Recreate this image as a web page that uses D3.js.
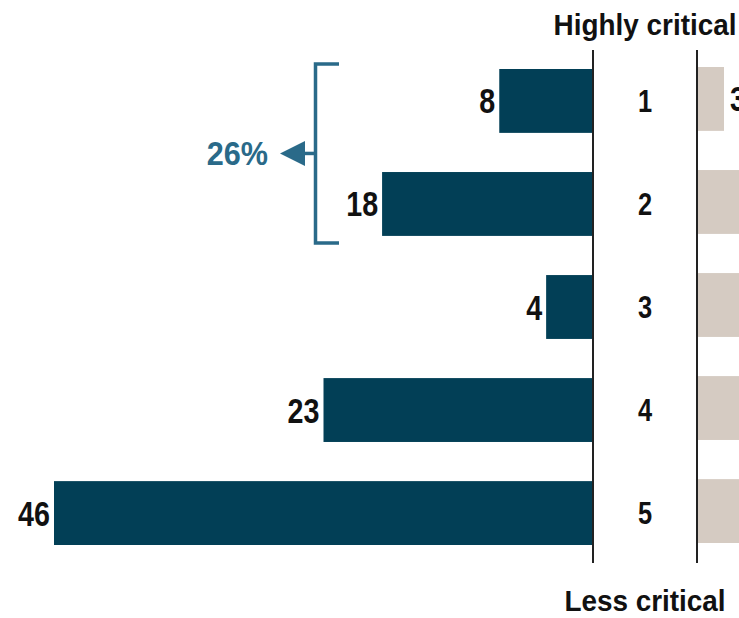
<!DOCTYPE html>
<html>
<head>
<meta charset="utf-8">
<script src="https://cdn.jsdelivr.net/npm/d3@7"></script>
<style>
  html, body { margin: 0; padding: 0; background: #fff; }
  svg { display: block; }
</style>
</head>
<body>
<script>
// Criticality ratings 1 (highly critical) to 5 (less critical)
const categories = ["1", "2", "3", "4", "5"];
// Share of respondents, left panel
const leftValues = [8, 18, 4, 23, 46];
// Share of respondents, right panel
const rightValues = [3, 14, 22, 27, 33];
// Bracketed group (ratings 1 and 2)
const groupCategories = ["1", "2"];
const groupLabel = "26%";
const topLabel = "Highly critical";
const bottomLabel = "Less critical";

const W = 739, H = 618;
const DARK = "#023f56", BEIGE = "#d5cbc2", ACCENT = "#2a6a89", INK = "#111";
const FONT = "'Liberation Sans', Arial, sans-serif";
const NARROW_X = 0.82;   // horizontal squeeze for narrow numerals
const HEAD_X = 0.93;     // horizontal squeeze for panel headings

const svg = d3.select("body").append("svg").attr("width", W).attr("height", H);

const leftAxisX = 593, rightAxisX = 697;

const y = d3.scaleBand().domain(categories).range([69, 545]).paddingInner(0.38).paddingOuter(0);
const yRight = d3.scaleBand().domain(categories).range([67, 543]).paddingInner(0.38).paddingOuter(0);

// Left panel grows leftwards from its axis
const xLeft = d3.scaleLinear().domain([0, 46]).range([leftAxisX, leftAxisX - 539]);
// Right panel grows rightwards from its axis
const xRight = d3.scaleLinear().domain([0, 30]).range([rightAxisX + 1, rightAxisX + 1 + 260]);

const leftData = categories.map((c, i) => ({ c, v: leftValues[i] }));
const rightData = categories.map((c, i) => ({ c, v: rightValues[i] }));

function squeezedText(sel, sx) {
  return sel.attr("transform", d => `translate(${d.tx},${d.ty}) scale(${sx},1)`)
    .attr("font-family", FONT)
    .attr("font-weight", "bold");
}

// Left bars
svg.append("g").selectAll("rect").data(leftData).join("rect")
  .attr("x", d => xLeft(d.v))
  .attr("y", d => y(d.c))
  .attr("width", d => xLeft(0) - xLeft(d.v))
  .attr("height", y.bandwidth())
  .attr("fill", DARK);

svg.append("g").selectAll("text")
  .data(leftData.map(d => ({ ...d, tx: xLeft(d.v) - 4, ty: y(d.c) + y.bandwidth() / 2 + 12.5 })))
  .join("text")
  .call(squeezedText, NARROW_X)
  .attr("text-anchor", "end")
  .attr("font-size", 35)
  .attr("fill", INK)
  .text(d => d.v);

// Right bars (the panel runs past the right edge)
svg.append("g").selectAll("rect").data(rightData).join("rect")
  .attr("x", xRight(0))
  .attr("y", d => yRight(d.c))
  .attr("width", d => xRight(d.v) - xRight(0))
  .attr("height", yRight.bandwidth())
  .attr("fill", BEIGE);

svg.append("g").selectAll("text")
  .data(rightData
    .map(d => ({ ...d, tx: xRight(d.v) + 6, ty: yRight(d.c) + yRight.bandwidth() / 2 + 12.5 }))
    .filter(d => d.tx < W))
  .join("text")
  .call(squeezedText, NARROW_X)
  .attr("text-anchor", "start")
  .attr("font-size", 35)
  .attr("fill", INK)
  .text(d => d.v);

// Panel axes
svg.append("g").selectAll("line").data([leftAxisX, rightAxisX]).join("line")
  .attr("x1", d => d).attr("x2", d => d)
  .attr("y1", 50).attr("y2", 563)
  .attr("stroke", "#222").attr("stroke-width", 2);

// Category labels between the panels
const midX = (leftAxisX + rightAxisX) / 2;
svg.append("g").selectAll("text")
  .data(categories.map(c => ({ c, tx: midX, ty: y(c) + y.bandwidth() / 2 + 11 })))
  .join("text")
  .call(squeezedText, NARROW_X)
  .attr("text-anchor", "middle")
  .attr("font-size", 31)
  .attr("fill", INK)
  .text(d => d.c);

// Panel headings
svg.append("g").selectAll("text")
  .data([{ t: topLabel, tx: midX, ty: 35 }, { t: bottomLabel, tx: midX, ty: 611 }])
  .join("text")
  .call(squeezedText, HEAD_X)
  .attr("text-anchor", "middle")
  .attr("font-size", 30)
  .attr("fill", INK)
  .text(d => d.t);

// Bracket grouping ratings 1 and 2
const bx = 315.5, bArm = 339;
const bTop = y(groupCategories[0]) - 5;
const bBot = y(groupCategories[groupCategories.length - 1]) + y.bandwidth() + 7;
const bMid = (bTop + bBot) / 2;
svg.append("path")
  .attr("d", `M${bArm},${bTop}H${bx}V${bBot}H${bArm}`)
  .attr("fill", "none").attr("stroke", ACCENT).attr("stroke-width", 3.5);
svg.append("line")
  .attr("x1", 300).attr("x2", bx).attr("y1", bMid).attr("y2", bMid)
  .attr("stroke", ACCENT).attr("stroke-width", 3.5);
svg.append("path")
  .attr("d", `M280,${bMid}L305,${bMid - 12.5}L305,${bMid + 12.5}Z`)
  .attr("fill", ACCENT);
svg.append("text")
  .attr("transform", `translate(268,${bMid + 12}) scale(0.9,1)`)
  .attr("text-anchor", "end")
  .attr("font-family", FONT).attr("font-weight", "bold").attr("font-size", 34)
  .attr("fill", ACCENT).text(groupLabel);
</script>
</body>
</html>
